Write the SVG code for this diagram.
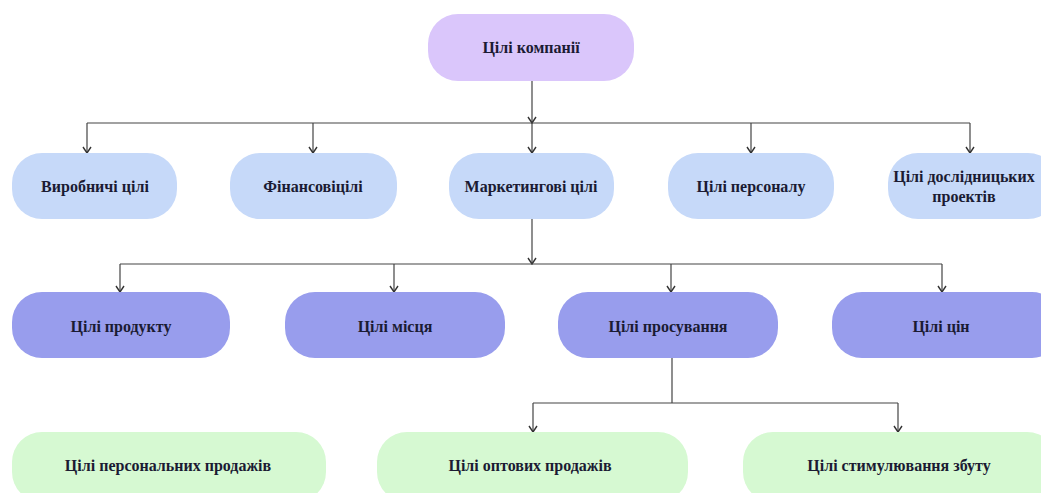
<svg xmlns="http://www.w3.org/2000/svg" width="1041" height="493" viewBox="0 0 1041 493">
<defs>
<marker id="arr" viewBox="0 0 10 10" refX="9" refY="5" markerWidth="10" markerHeight="10" markerUnits="userSpaceOnUse" orient="auto">
<path d="M3,1 L9,5 L3,9" fill="none" stroke="#333" stroke-width="1.4"/>
</marker>
<style>
.t{font-family:"Liberation Serif","Times New Roman",serif;font-weight:bold;font-size:16px;fill:#1b1b33;text-anchor:middle;dominant-baseline:central}
.top{fill:#dac6fb}
.l2{fill:#c6d9f9}
.l3{fill:#989ded}
.l4{fill:#d6f9d2}
.c{fill:none;stroke:#444;stroke-width:1.2}
</style>
</defs>
<rect width="1041" height="493" fill="#ffffff"/>
<g id="connectors">
<path class="c" d="M532,81 V123" marker-end="url(#arr)"/>
<path class="c" d="M87,123 H970"/>
<path class="c" d="M87,123 V153" marker-end="url(#arr)"/>
<path class="c" d="M313,123 V153" marker-end="url(#arr)"/>
<path class="c" d="M532,123 V153" marker-end="url(#arr)"/>
<path class="c" d="M751,123 V153" marker-end="url(#arr)"/>
<path class="c" d="M970,123 V153" marker-end="url(#arr)"/>
<path class="c" d="M532,219 V264" marker-end="url(#arr)"/>
<path class="c" d="M120,264 H942"/>
<path class="c" d="M120,264 V292" marker-end="url(#arr)"/>
<path class="c" d="M394,264 V292" marker-end="url(#arr)"/>
<path class="c" d="M671,264 V292" marker-end="url(#arr)"/>
<path class="c" d="M942,264 V292" marker-end="url(#arr)"/>
<path class="c" d="M672,358 V403"/>
<path class="c" d="M533,403 H898"/>
<path class="c" d="M533,403 V432" marker-end="url(#arr)"/>
<path class="c" d="M898,403 V432" marker-end="url(#arr)"/>
</g>
<g id="n-company"><rect class="top" x="428" y="14" width="206" height="67" rx="30"/><text class="t" x="531" y="47" font-size="19">Цілі компанії</text></g>
<g id="n-prod"><rect class="l2" x="12" y="153" width="165" height="66" rx="30"/><text class="t" x="95" y="186">Виробничі цілі</text></g>
<g id="n-fin"><rect class="l2" x="230" y="153" width="167" height="66" rx="30"/><text class="t" x="313" y="186">Фінансовіцілі</text></g>
<g id="n-mkt"><rect class="l2" x="449" y="153" width="165" height="66" rx="30"/><text class="t" x="531" y="186">Маркетингові цілі</text></g>
<g id="n-pers"><rect class="l2" x="668" y="153" width="166" height="66" rx="30"/><text class="t" x="751" y="186">Цілі персоналу</text></g>
<g id="n-res"><rect class="l2" x="888" y="153" width="170" height="66" rx="30"/><text class="t" x="964" y="176">Цілі дослідницьких</text><text class="t" x="964" y="196">проектів</text></g>
<g id="n-product"><rect class="l3" x="12" y="292" width="218" height="66" rx="30"/><text class="t" x="121" y="326">Цілі продукту</text></g>
<g id="n-place"><rect class="l3" x="285" y="292" width="220" height="66" rx="30"/><text class="t" x="395" y="326">Цілі місця</text></g>
<g id="n-promo"><rect class="l3" x="558" y="292" width="220" height="66" rx="30"/><text class="t" x="668" y="326">Цілі просування</text></g>
<g id="n-price"><rect class="l3" x="832" y="292" width="230" height="66" rx="30"/><text class="t" x="941" y="326">Цілі цін</text></g>
<g id="n-personal"><rect class="l4" x="12" y="432" width="314" height="70" rx="30"/><text class="t" x="168" y="465">Цілі персональних продажів</text></g>
<g id="n-wholesale"><rect class="l4" x="377" y="432" width="311" height="70" rx="30"/><text class="t" x="530" y="465">Цілі оптових продажів</text></g>
<g id="n-stim"><rect class="l4" x="743" y="432" width="314" height="70" rx="30"/><text class="t" x="899" y="465">Цілі стимулювання збуту</text></g>
</svg>
